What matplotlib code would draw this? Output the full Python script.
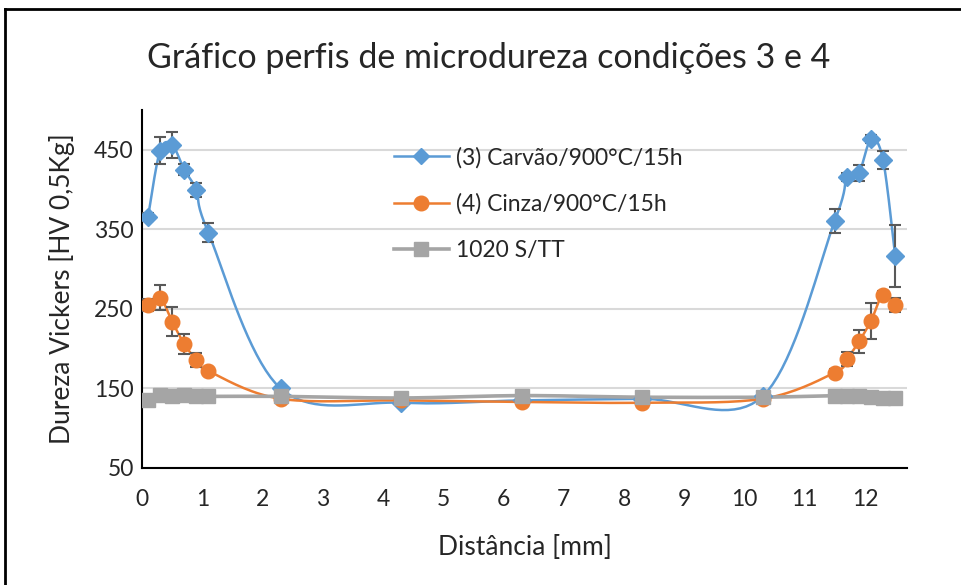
import numpy as np
import matplotlib
matplotlib.use("Agg")
import matplotlib.pyplot as plt
from matplotlib.lines import Line2D

plt.rcParams['font.family'] = ['Lato', 'DejaVu Sans']

dist = [0.1, 0.3, 0.5, 0.7, 0.9, 1.1, 2.3, 4.3, 6.3, 8.3, 10.3,
        11.5, 11.7, 11.9, 12.1, 12.3, 12.5]

carvao = [366, 449, 456, 425, 399, 346, 150, 132, 135, 137, 140,
          361, 416, 421, 463, 437, 317]
carvao_err = [5, 17, 16, 7, 9, 12, 3, 3, 3, 3, 3,
              15, 5, 10, 5, 11, 39]

cinza = [255, 264, 234, 206, 186, 172, 137, 135, 133, 132, 137,
         170, 187, 209, 235, 268, 255]
cinza_err = [8, 16, 18, 13, 9, 4, 3, 3, 3, 3, 3,
             4, 9, 15, 23, 5, 9]

s_tt = [136, 142, 141, 142, 140, 140, 140, 138, 141, 139, 139,
        141, 140, 141, 139, 138, 138]

labels = ['(3) Carvão/900°C/15h', '(4) Cinza/900°C/15h', '1020 S/TT']
colors = ['#5B9BD5', '#ED7D31', '#A5A5A5']
markers = ['D', 'o', 's']


def smooth(x, y, n=20):
    # bezier curve through the points, like the "smoothed line" option
    x = np.asarray(x, float)
    y = np.asarray(y, float)
    px = np.concatenate([[x[0]], x, [x[-1]]])
    py = np.concatenate([[y[0]], y, [y[-1]]])
    xs, ys = [], []
    t = np.linspace(0, 1, n)
    for i in range(len(x) - 1):
        p0 = np.array([px[i + 1], py[i + 1]])
        p3 = np.array([px[i + 2], py[i + 2]])
        c1 = p0 + (np.array([px[i + 2], py[i + 2]]) - np.array([px[i], py[i]])) / 6
        c2 = p3 - (np.array([px[i + 3], py[i + 3]]) - np.array([px[i + 1], py[i + 1]])) / 6
        b = ((1 - t) ** 3)[:, None] * p0 + (3 * (1 - t) ** 2 * t)[:, None] * c1 \
            + (3 * (1 - t) * t ** 2)[:, None] * c2 + (t ** 3)[:, None] * p3
        xs.extend(b[:, 0])
        ys.extend(b[:, 1])
    return xs, ys


fig = plt.figure(figsize=(9.61, 5.85), dpi=100)
ax = fig.add_axes([0.1478, 0.2, 0.7962, 0.612])

series = [(carvao, carvao_err), (cinza, cinza_err), (s_tt, None)]
order = [2, 1, 0]
for k in order:
    y, err = series[k]
    sx, sy = smooth(dist, y)
    ax.plot(sx, sy, color=colors[k], lw=1.8 if k < 2 else 2.6, zorder=2 + k)
    if err is not None:
        ax.errorbar(dist, y, yerr=err, fmt='none', ecolor='#595959',
                    elinewidth=1.5, capsize=4, capthick=1.5, zorder=5 + k)
    ms = {0: 9.5, 1: 10.5, 2: 9.5}[k]
    ax.plot(dist, y, linestyle='none', marker=markers[k], ms=ms,
            color=colors[k], zorder=8 + k)

ax.set_xlim(0, 12.7)
ax.set_ylim(50, 500)
ax.set_xticks(range(0, 13))
ax.set_yticks([50, 150, 250, 350, 450])
ax.grid(axis='y', color='#D9D9D9', lw=1.5)
ax.set_axisbelow(True)
for s in ['top', 'right']:
    ax.spines[s].set_visible(False)
ax.spines['left'].set_linewidth(1.5)
ax.spines['bottom'].set_linewidth(1.5)
ax.tick_params(length=0, labelsize=16.5, pad=15, colors='#262626')
ax.tick_params(axis='y', pad=6)

ax.set_xlabel('Distância [mm]', fontsize=19, color='#262626', labelpad=18)
ax.set_ylabel('Dureza Vickers [HV 0,5Kg]', fontsize=19, color='#262626', labelpad=14)
fig.text(0.508, 0.9, 'Gráfico perfis de microdureza condições 3 e 4',
         ha='center', va='center', fontsize=24.5, color='#262626')

handles = [Line2D([], [], color=colors[k], marker=markers[k],
                  ms={0: 8.5, 1: 10.5, 2: 9.5}[k], lw=1.8 if k < 2 else 2.6)
           for k in range(3)]
ax.legend(handles, labels, loc='upper left', bbox_to_anchor=(0.302, 0.955),
          frameon=False, fontsize=16.5, handlelength=2.4, labelspacing=1.1,
          handletextpad=0.3, labelcolor='#262626')

# outer border of the chart area
fig.add_artist(Line2D([0.005, 1.0], [0.984, 0.984], color='black', lw=2,
                      transform=fig.transFigure))
fig.add_artist(Line2D([0.005, 0.005], [0.0, 0.984], color='black', lw=2,
                      transform=fig.transFigure))

fig.savefig('out.png', dpi=100)
